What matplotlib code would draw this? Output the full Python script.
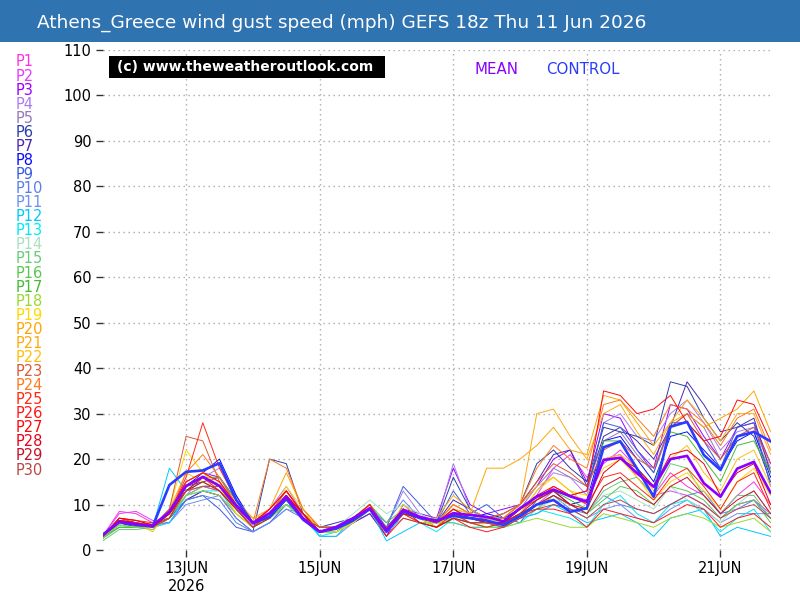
import numpy as np
import matplotlib.pyplot as plt
from matplotlib.patches import Rectangle

# forecast hours from 11 Jun 18z, 6-hourly
hours = list(range(0, 241, 6))

member_names = ["P%d" % k for k in range(1, 31)]
member_colors = [
    "#ff33dd", "#e23cff", "#9a00ff", "#a97cf0", "#9a78b8", "#2a3ea8", "#4a2ab0", "#0a0aff",
    "#3a5ee0", "#5a7ef0", "#6e8ff0", "#00c8ff", "#00eaf5", "#a8e0c0", "#66cc77", "#58c850",
    "#44bb33", "#9ad830", "#ffd800", "#ffa500", "#ffaa10", "#ffbe10", "#d85a3a", "#ff7a20",
    "#ff2a10", "#ff1a1a", "#ff0a0a", "#e8001a", "#c8102a", "#b84848",
]

p1 = [3, 8.5, 8, 6, 7, 12, 14, 13, 9, 5, 9, 13, 8, 4, 5, 7, 9, 4, 9, 7, 6, 7, 6, 5, 6, 7, 10, 13, 12, 11, 20, 21, 16, 12, 17, 14, 12, 8, 12, 15, 10]
p2 = [3, 8, 8.5, 6.5, 6, 11, 13, 12, 8, 5, 8, 11, 7, 5, 5, 6, 8, 3, 8, 6, 6, 9, 7, 6, 5, 8, 12, 18, 21, 16, 19, 22, 18, 12, 13, 12, 10, 7, 10, 11, 8]
p3 = [3, 6, 5, 5, 9, 15, 17, 16, 11, 6, 8, 12, 7, 4, 5, 7, 9, 4, 9, 8, 7, 18, 10, 8, 9, 10, 14, 20, 22, 15, 30, 29, 22, 18, 32, 31, 25, 20, 27, 28, 19]
p4 = [3, 6.5, 6, 5, 7, 12, 16, 18, 12, 6, 9, 14, 8, 5, 5, 6, 8, 5, 13, 8, 6, 19, 9, 6, 6, 8, 13, 17, 16, 12, 28, 30, 25, 24, 30, 33, 28, 22, 26, 27, 18]
p5 = [2.5, 6, 5.5, 5, 8, 13, 14, 13, 9, 6, 7, 10, 7, 4, 5, 7, 9, 5, 9, 7, 6, 10, 8, 7, 7, 9, 14, 18, 16, 14, 24, 26, 21, 17, 27, 30, 27, 20, 25, 26, 17]
p6 = [3, 6, 5, 5, 7, 11, 13, 12, 7, 4, 20, 19, 8, 5, 6, 7, 9, 4, 8, 7, 6, 16, 9, 7, 7, 10, 19, 22, 18, 15, 27, 26, 25, 23, 37, 36, 29, 24, 28, 25, 15]
p7 = [3, 6.5, 6, 5.5, 8, 14, 15, 16, 10, 6, 8, 12, 7, 4, 5, 6, 8, 3, 10, 7, 6, 11, 9, 7, 8, 10, 15, 21, 22, 14, 25, 27, 24, 20, 27, 37, 32, 26, 27, 29, 17]
p8 = [3, 6, 5.5, 5, 9, 14, 17, 20, 12, 6, 7, 12, 7, 4, 5, 7, 9, 4, 8, 7, 6, 8, 7, 8, 7, 9, 12, 13, 10, 11, 24, 25, 20, 15, 25, 26, 22, 18, 24, 26, 16]
p9 = [3, 6, 5.5, 6, 7, 11, 12, 9, 5, 4, 6, 10, 8, 5, 5, 7, 10, 5, 14, 10, 6, 13, 8, 10, 7, 6, 11, 13, 12, 13, 28, 27, 22, 17, 28, 28, 24, 18, 27, 28, 14]
p10 = [3, 6, 5.5, 5.5, 6, 11, 12, 11, 6, 4, 6, 9, 7, 4, 4, 6, 9, 6, 11, 7, 5, 9, 8, 7, 6, 7, 10, 12, 9, 8, 12, 10, 9, 8, 10, 12, 13, 8, 9, 11, 7]
p11 = [3, 5.5, 5, 5, 6, 10, 11, 12, 7, 4, 6, 9, 8, 3, 3, 6, 9, 5, 9, 7, 6, 8, 7, 6, 5, 7, 8, 10, 9, 7, 9, 10, 7, 6, 9, 11, 9, 6, 8, 8, 8]
p12 = [3, 6, 6, 5, 18, 13, 16, 14, 9, 5, 7, 10, 8, 3, 3, 7, 9, 2, 4, 6, 6, 6, 5, 5, 5, 7, 8, 10, 8, 6, 7, 8, 6, 3, 7, 8, 9, 3, 5, 4, 3]
p13 = [3, 5.5, 5, 5, 6, 12, 13, 13, 8, 5, 7, 10, 7, 3, 4, 6, 9, 4, 7, 6, 4, 7, 6, 5, 5, 6, 9, 8, 7, 5, 10, 12, 8, 6, 10, 11, 8, 4, 7, 9, 4]
p14 = [2.5, 5, 5, 5, 7, 13, 14, 15, 9, 5, 8, 11, 7, 4, 5, 8, 11, 8, 10, 8, 6, 7, 7, 6, 6, 8, 9, 11, 10, 8, 12, 13, 11, 9, 14, 11, 9, 6, 10, 13, 8]
p15 = [2, 4.5, 4.5, 5, 7, 12, 14, 14, 10, 6, 8, 10, 7, 4, 4, 6, 9, 5, 8, 7, 6, 6, 5, 5, 6, 8, 10, 12, 10, 8, 13, 15, 16, 12, 19, 18, 12, 8, 12, 12, 7]
p16 = [2.5, 5, 5, 4.5, 8, 13, 15, 13, 9, 5, 7, 11, 8, 4, 4, 7, 10, 6, 9, 7, 5, 7, 6, 6, 6, 8, 9, 12, 10, 8, 11, 14, 13, 10, 14, 13, 11, 7, 10, 11, 6]
p17 = [3, 5, 5, 5, 7, 14, 16, 16, 11, 6, 8, 12, 7, 4, 5, 6, 9, 4, 9, 7, 5, 8, 7, 6, 6, 9, 11, 13, 11, 9, 24, 24, 18, 14, 26, 25, 20, 15, 23, 24, 17]
p18 = [3, 5.5, 5, 5, 8, 12, 13, 12, 8, 5, 7, 10, 7, 4, 4, 6, 9, 4, 8, 6, 6, 7, 6, 5, 5, 6, 7, 6, 5, 5, 8, 7, 6, 5, 7, 8, 7, 5, 6, 7, 4]
p19 = [3, 6, 6, 5, 9, 22, 17, 14, 8, 5, 7, 14, 9, 4, 4, 6, 9, 4, 8, 7, 5, 9, 8, 7, 6, 8, 13, 16, 13, 12, 18, 20, 16, 11, 15, 17, 13, 9, 15, 18, 12]
p20 = [3, 6.5, 6, 5, 7, 15, 17, 15, 10, 7, 9, 17, 9, 5, 5, 7, 10, 4, 9, 7, 6, 10, 8, 18, 18, 20, 23, 27, 22, 21, 34, 33, 28, 23, 28, 30, 27, 29, 31, 35, 26]
p21 = [3, 6.5, 6, 5.5, 8, 14, 16, 14, 11, 7, 8, 13, 8, 4, 5, 7, 9, 4, 9, 7, 7, 12, 9, 7, 7, 10, 30, 31, 25, 20, 30, 32, 26, 21, 28, 33, 29, 24, 30, 30, 21]
p22 = [3, 6, 6, 4, 9, 17, 15, 13, 10, 6, 8, 11, 8, 5, 5, 7, 9, 4, 10, 7, 6, 10, 8, 7, 8, 10, 14, 16, 13, 10, 20, 21, 18, 13, 20, 23, 17, 13, 20, 22, 14]
p23 = [3, 6.5, 6, 5, 9, 25, 24, 15, 10, 6, 8, 13, 8, 4, 5, 7, 10, 4, 9, 7, 6, 9, 7, 7, 8, 10, 15, 19, 17, 14, 22, 24, 20, 18, 27, 30, 24, 20, 25, 27, 19]
p24 = [3, 7, 6.5, 5.5, 8, 17, 21, 16, 10, 6, 20, 18, 9, 5, 5, 7, 10, 4, 9, 7, 6, 10, 8, 7, 7, 10, 18, 23, 20, 18, 32, 33, 29, 25, 32, 31, 28, 23, 29, 31, 22]
p25 = [3, 7, 6.5, 6, 8, 16, 28, 18, 11, 6, 9, 13, 8, 4, 5, 7, 9, 4, 8, 6, 5, 8, 6, 5, 6, 9, 11, 14, 12, 10, 16, 17, 14, 11, 16, 18, 14, 9, 15, 17, 9]
p26 = [3, 7, 6, 5.5, 7, 14, 16, 13, 9, 5, 8, 12, 8, 4, 5, 7, 9, 3, 7, 6, 5, 7, 5, 4, 5, 7, 9, 9, 8, 5, 9, 8, 7, 6, 8, 10, 9, 5, 7, 8, 5]
p27 = [3, 6.5, 6, 5, 8, 15, 17, 15, 10, 6, 9, 13, 8, 4, 5, 7, 10, 4, 8, 7, 6, 9, 7, 6, 6, 9, 12, 14, 12, 13, 35, 34, 30, 31, 34, 28, 24, 25, 33, 32, 24]
p28 = [3, 7, 6.5, 5.5, 8, 13, 16, 14, 10, 6, 8, 12, 8, 4, 5, 7, 9, 4, 8, 7, 6, 8, 7, 6, 6, 8, 10, 12, 10, 9, 17, 20, 18, 14, 21, 22, 19, 12, 17, 19, 10]
p29 = [3, 6.5, 6, 5, 8, 13, 15, 13, 9, 5, 7, 11, 7, 4, 5, 7, 9, 4, 9, 6, 5, 7, 6, 6, 6, 8, 11, 13, 10, 8, 14, 16, 12, 10, 14, 16, 12, 8, 11, 13, 8]
p30 = [3, 6, 6, 5, 7, 13, 14, 14, 9, 5, 8, 11, 7, 5, 5, 7, 9, 5, 9, 7, 6, 8, 6, 6, 5, 8, 9, 10, 9, 7, 10, 11, 9, 8, 10, 12, 10, 7, 9, 10, 7]

members = [p1, p2, p3, p4, p5, p6, p7, p8, p9, p10, p11, p12, p13, p14, p15,
           p16, p17, p18, p19, p20, p21, p22, p23, p24, p25, p26, p27, p28, p29, p30]

mean = [3.3, 6.2, 5.7, 5.3, 8.4, 14.1, 16.1, 14.1, 9.7, 5.9, 8.1, 11.7, 7.0, 4.0, 5.1, 7.0, 9.2, 4.4, 8.8, 7.3,
        6.3, 8.1, 7.7, 7.3, 6.3, 9.2, 11.7, 13.3, 11.8, 10.6, 19.8, 20.3, 16.9, 13.9, 20.0, 20.7, 14.7, 11.7, 17.9, 19.4, 12.6]
control = [3.3, 6.2, 5.5, 5.2, 14.3, 17.2, 17.5, 19.1, 11.0, 5.9, 7.3, 11.3, 6.7, 4.0, 4.7, 6.5, 9.0, 4.0, 8.5, 7.0,
           6.5, 7.5, 7.0, 6.5, 5.5, 7.5, 10.0, 11.0, 8.4, 9.2, 22.6, 23.9, 17.9, 11.7, 27.1, 28.2, 20.9, 17.6, 25.0, 26.0, 23.9]

tick_hours = [30, 78, 126, 174, 222]
tick_labels = ["13JUN\n2026", "15JUN", "17JUN", "19JUN", "21JUN"]
y_ticks = list(range(0, 111, 10))

title = "Athens_Greece wind gust speed (mph) GEFS 18z Thu 11 Jun 2026"

fig = plt.figure(figsize=(8, 6), dpi=100)
ax = fig.add_axes([102.6 / 800, 50 / 600, 668 / 800, 500 / 600])

for vals, col in zip(members, member_colors):
    ax.plot(hours, vals, color=col, lw=0.7)
ax.plot(hours, control, color="#2a3cff", lw=1.9)
ax.plot(hours, mean, color="#8a00ff", lw=1.9)

ax.set_xlim(0, 240)
ax.set_ylim(0, 110)
ax.set_xticks(tick_hours)
ax.set_xticklabels(tick_labels, fontsize=10.5, linespacing=1.2)
ax.set_yticks(y_ticks)
ax.tick_params(axis="y", labelsize=10.5, length=5, width=1, pad=3, colors="#333333", labelcolor="black")
ax.tick_params(axis="x", length=5, width=1, pad=3, colors="#333333", labelcolor="black")
for s in ax.spines.values():
    s.set_visible(False)
ax.grid(True, color="#aaaaaa", lw=1, linestyle=(0, (1, 2.6)))
ax.set_axisbelow(True)

# title bar
fig.patches.append(Rectangle((0, 1 - 42 / 600), 1, 42 / 600, transform=fig.transFigure,
                             facecolor="#2f73b1", edgecolor="none", zorder=0))
fig.text(37 / 800, 1 - 23 / 600, title, color="white", fontsize=13.3, va="center", ha="left")

# member labels
for k, (name, col) in enumerate(zip(member_names, member_colors)):
    fig.text(16 / 800, 1 - (62 + 14.07 * k) / 600, name, color=col, fontsize=10.5, va="center", ha="left")

# copyright box and MEAN / CONTROL
fig.patches.append(Rectangle((109 / 800, 1 - 78 / 600), 276 / 800, 22 / 600, transform=fig.transFigure,
                             facecolor="black", edgecolor="none", zorder=3))
fig.text(117 / 800, 1 - 67 / 600, "(c) www.theweatheroutlook.com", color="white", fontsize=10,
         fontweight="bold", va="center", ha="left", zorder=4)
fig.text(475 / 800, 1 - 69 / 600, "MEAN", color="#8a00ff", fontsize=10.8, va="center", ha="left")
fig.text(546 / 800, 1 - 69 / 600, "CONTROL", color="#2a3cff", fontsize=10.8, va="center", ha="left")

fig.savefig("out.png", dpi=100)
